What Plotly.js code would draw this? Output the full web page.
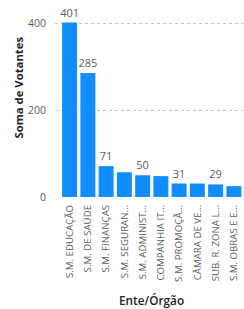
<!DOCTYPE html>
<html>
<head>
<meta charset="utf-8">
<script src="https://cdn.plot.ly/plotly-3.0.1.min.js"></script>
<style>html,body{margin:0;padding:0;background:#fff;}#chart{width:244px;height:309px;}</style>
</head>
<body>
<div id="chart"></div>
<script>
const categories = ["S.M. EDUCAÇÃO", "S.M. DE SAÚDE", "S.M. FINANÇAS", "S.M. SEGURAN…", "S.M. ADMINIST…", "COMPANHIA IT…", "S.M. PROMOÇÃ…", "CÂMARA DE VE…", "SUB. R. ZONA L…", "S.M. OBRAS E E…"];
const votantes = [401, 285, 71, 57, 50, 48, 31, 31, 29, 25];
const labelShown = [true, true, true, false, true, false, true, false, true, false];
const yTicks = [0, 200, 400];
const xTitle = "Ente/Órgão";
const yTitle = "Soma de Votantes";

const font = "Open Sans, Noto Sans, sans-serif";
const H = 309, T = 10, B = 112;
const plotH = H - T - B;
const pyPaper = px => (H - B - px) / plotH;

const trace = {
  type: "bar",
  x: categories,
  y: votantes,
  marker: {color: "#118DFF"},
  text: votantes.map((v, i) => labelShown[i] ? String(v) : ""),
  textposition: "outside",
  constraintext: "none",
  textfont: {family: font, size: 11, color: "#605E5C"},
  cliponaxis: false,
  hoverinfo: "none"
};
const layout = {
  width: 244, height: H,
  margin: {l: 55, r: 1, t: T, b: B},
  paper_bgcolor: "#fff", plot_bgcolor: "#fff",
  bargap: 0.18,
  showlegend: false,
  font: {family: font},
  xaxis: {
    type: "category",
    range: [-0.8, 9.5],
    tickangle: -90,
    automargin: false,
    ticklabelstandoff: 5,
    tickfont: {family: font, size: 9.7, color: "#605E5C"},
    showgrid: false, zeroline: false, showline: false, ticks: ""
  },
  yaxis: {
    range: [0, 430],
    tickvals: yTicks,
    ticktext: yTicks.map(String),
    tickfont: {family: font, size: 10.5, color: "#605E5C"},
    showgrid: true, gridcolor: "#C8C6C4", griddash: "dot", gridwidth: 1,
    zeroline: false, showline: false, ticks: "",
    ticklabelstandoff: 8,
    automargin: false
  },
  annotations: [
    {text: xTitle, xref: "paper", yref: "paper", x: (151 - 55) / 188, y: pyPaper(300),
     xanchor: "center", yanchor: "middle", showarrow: false,
     font: {family: font, size: 11.8, color: "#252423", weight: 600}},
    {text: yTitle, xref: "paper", yref: "paper", x: (18 - 55) / 188, y: pyPaper(87.5),
     xanchor: "center", yanchor: "middle", showarrow: false, textangle: -90,
     font: {family: font, size: 11.3, color: "#252423", weight: 700}}
  ]
};
Plotly.newPlot("chart", [trace], layout, {staticPlot: true, displayModeBar: false});
</script>
</body>
</html>
